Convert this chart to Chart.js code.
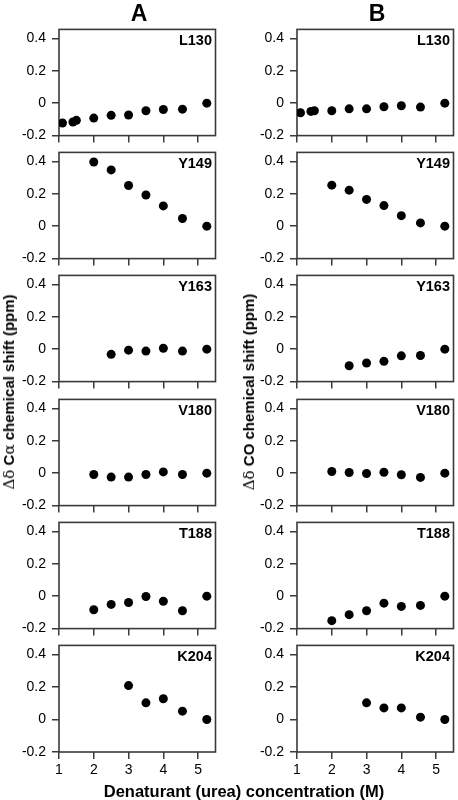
<!DOCTYPE html>
<html><head><meta charset="utf-8">
<script src="https://cdn.jsdelivr.net/npm/chart.js@4"></script>
<style>
html,body{margin:0;padding:0;}
body{width:458px;height:800px;overflow:hidden;background:#fff;position:relative;font-family:"Liberation Sans",Arial,Helvetica,sans-serif;}
canvas{position:absolute;}
.t{position:absolute;font-weight:bold;color:#000;white-space:nowrap;line-height:1;}
.g{font-weight:normal;font-family:"DejaVu Serif","Liberation Serif",serif;}
</style></head><body>
<script>
// ---- data ----
const panelNames = ['L130','Y149','Y163','V180','T188','K204'];
const columnTitles = ['A','B'];
const xTickValues = [1,2,3,4,5];
const xTickLabels = ['1','2','3','4','5'];
const yTickValues = [-0.2,0,0.2,0.4];
const yTickLabels = ['-0.2','0','0.2','0.4'];

const urea_L130 = [1.1,1.4,1.5,2,2.5,3,3.5,4,4.55,5.25];
const urea_Y149 = [2,2.5,3,3.5,4,4.55,5.25];
const urea_Y163 = [2.5,3,3.5,4,4.55,5.25];
const urea_V180 = [2,2.5,3,3.5,4,4.55,5.25];
const urea_T188 = [2,2.5,3,3.5,4,4.55,5.25];
const urea_K204 = [3,3.5,4,4.55,5.25];

const ca_L130 = [-0.122,-0.116,-0.106,-0.092,-0.075,-0.073,-0.047,-0.039,-0.037,0];
const ca_Y149 = [0.396,0.347,0.251,0.192,0.125,0.047,0];
const ca_Y163 = [-0.032,-0.006,-0.012,0.006,-0.012,0];
const ca_V180 = [-0.008,-0.024,-0.024,-0.008,0.008,-0.008,0];
const ca_T188 = [-0.084,-0.051,-0.039,-0.002,-0.031,-0.090,0];
const ca_K204 = [0.208,0.102,0.127,0.051,0];

const co_L130 = [-0.059,-0.051,-0.047,-0.047,-0.035,-0.035,-0.022,-0.016,-0.024,0];
const co_Y149 = [0.253,0.222,0.165,0.127,0.065,0.020,0];
const co_Y163 = [-0.102,-0.085,-0.075,-0.041,-0.039,0];
const co_V180 = [0.010,0.004,-0.002,0.006,-0.010,-0.026,0];
const co_T188 = [-0.151,-0.114,-0.090,-0.043,-0.063,-0.057,0];
const co_K204 = [0.102,0.071,0.071,0.014,0];

const ureaSets = [urea_L130,urea_Y149,urea_Y163,urea_V180,urea_T188,urea_K204];
const caSets = [ca_L130,ca_Y149,ca_Y163,ca_V180,ca_T188,ca_K204];
const coSets = [co_L130,co_Y149,co_Y163,co_V180,co_T188,co_K204];

// ---- layout ----
const FONT = '"Liberation Sans", Arial, Helvetica, sans-serif';
const colPlotLeft = [59, 297];
const plotW = 159;
const plotH = 111;
const yAxisW = 59;
const padTop = 10;
const panelStep = 123.2;
const firstTop = 25;
const INK = '#3a3a3a';

const framePlugin = {
  id: 'frame',
  beforeDatasetsDraw(chart) {
    const {ctx, chartArea: {left, top, right, bottom}} = chart;
    ctx.save();
    ctx.strokeStyle = INK;
    ctx.lineWidth = 1.6;
    ctx.strokeRect(left, top, right - left, bottom - top);
    ctx.restore();
  }
};

function addText(html, style) {
  const d = document.createElement('div');
  d.className = 't';
  d.innerHTML = html;
  Object.assign(d.style, style);
  document.body.appendChild(d);
  return d;
}

for (let c = 0; c < 2; c++) {
  const sets = c === 0 ? caSets : coSets;
  for (let p = 0; p < 6; p++) {
    const isBottom = p === 5;
    const plotTop = Math.round(firstTop + p * panelStep);
    const xAxisH = isBottom ? 32 : 14;
    const cv = document.createElement('canvas');
    const W = yAxisW + plotW + 2;
    const H = padTop + plotH + xAxisH;
    cv.width = W; cv.height = H;
    cv.style.width = W + 'px'; cv.style.height = H + 'px';
    cv.style.left = (colPlotLeft[c] - yAxisW) + 'px';
    cv.style.top = (plotTop - padTop) + 'px';
    document.body.appendChild(cv);

    const pts = ureaSets[p].map((x, i) => ({x: x, y: sets[p][i]}));
    new Chart(cv, {
      type: 'scatter',
      data: { datasets: [{ data: pts, backgroundColor: '#000', borderColor: '#000', borderWidth: 0, pointRadius: 4.5, pointHoverRadius: 4.5 }] },
      options: {
        responsive: false, animation: false, events: [],
        devicePixelRatio: 1,
        layout: { padding: { top: padTop, right: 2, left: 0, bottom: 0 } },
        plugins: { legend: { display: false }, tooltip: { enabled: false }, title: { display: false } },
        scales: {
          x: {
            type: 'linear', min: 1, max: 5.5,
            afterBuildTicks: s => { s.ticks = xTickValues.map(v => ({value: v})); },
            afterFit: s => { s.height = xAxisH; },
            ticks: { display: isBottom, autoSkip: false, maxRotation: 0, padding: 3,
                     callback: (v, i) => xTickLabels[i], color: '#000', font: { size: 14, family: FONT } },
            grid: { display: true, drawOnChartArea: false, drawTicks: true, tickLength: 7, color: INK, lineWidth: 1.5 },
            border: { display: false }
          },
          y: {
            type: 'linear', min: -0.2, max: 0.455,
            afterBuildTicks: s => { s.ticks = yTickValues.map(v => ({value: v})); },
            afterFit: s => { s.width = yAxisW; },
            ticks: { autoSkip: false, padding: 6,
                     callback: (v, i) => yTickLabels[i], color: '#000', font: { size: 14, family: FONT } },
            grid: { display: true, drawOnChartArea: false, drawTicks: true, tickLength: 7, color: INK, lineWidth: 1.5 },
            border: { display: false }
          }
        }
      },
      plugins: [framePlugin]
    });

    // panel label
    addText(panelNames[p], {
      fontSize: '14.5px',
      right: (458 - (colPlotLeft[c] + plotW - 6)) + 'px',
      top: (plotTop + 15) + 'px',
      transform: 'translateY(-50%)'
    });
  }
}

// column titles
addText(columnTitles[0], { fontSize: '23px', left: '139px', top: '13px', transform: 'translate(-50%,-50%)' });
addText(columnTitles[1], { fontSize: '23px', left: '377px', top: '13px', transform: 'translate(-50%,-50%)' });

// y axis titles
addText('<span class="g">Δδ</span> C<span class="g">α</span> chemical shift (ppm)',
  { fontSize: '15px', left: '9px', top: '392px', transform: 'translate(-50%,-50%) rotate(-90deg)' });
addText('<span class="g">Δδ</span> CO chemical shift (ppm)',
  { fontSize: '15px', left: '249px', top: '392px', transform: 'translate(-50%,-50%) rotate(-90deg)' });

// x axis title
addText('Denaturant (urea) concentration (M)',
  { fontSize: '16.5px', left: '244px', top: '791px', transform: 'translate(-50%,-50%)' });
</script>
</body></html>
